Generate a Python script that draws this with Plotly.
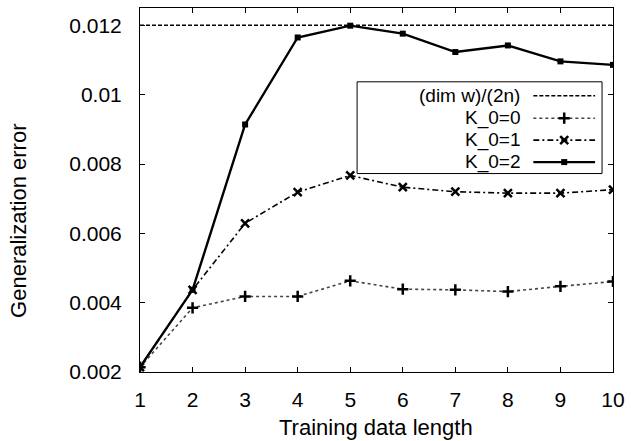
import plotly.graph_objects as go

# ---- data ----
x_len = [1, 2, 3, 4, 5, 6, 7, 8, 9, 10]
dim_w_2n = [0.012] * 10
k0_0 = [0.00214, 0.00385, 0.00418, 0.00418, 0.00463, 0.00439, 0.00437, 0.00432, 0.00447, 0.00461]
k0_1 = [0.00214, 0.00437, 0.00629, 0.00719, 0.00767, 0.00733, 0.00720, 0.00716, 0.00716, 0.00726]
k0_2 = [0.00214, 0.00437, 0.00914, 0.01165, 0.01199, 0.01176, 0.01123, 0.01142, 0.01096, 0.01086]
y_ticks = [0.002, 0.004, 0.006, 0.008, 0.010, 0.012]
y_ticktext = ["0.002", "0.004", "0.006", "0.008", "0.01", "0.012"]
legend_names = ["(dim w)/(2n)", "K_0=0", "K_0=1", "K_0=2"]
x_title = "Training data length"
y_title = "Generalization error"

FONT = "Liberation Sans, Arial, sans-serif"
W, H = 632, 441
L, R, T, B = 140, 615, 7, 372


def px(xp):
    return (xp - L) / (R - L)


def py(yp):
    return (B - yp) / (B - T)


styles = [
    dict(line=dict(color="black", width=1.5, dash="4px,2px"), mode="lines", marker=None),
    dict(line=dict(color="#444", width=1.6, dash="dot"), mode="lines+markers",
         marker=dict(symbol="cross-thin", size=8, line=dict(color="black", width=2.5))),
    dict(line=dict(color="black", width=1.6, dash="6px,3px,2px,3px"), mode="lines+markers",
         marker=dict(symbol="x-thin", size=8, line=dict(color="black", width=2.5))),
    dict(line=dict(color="black", width=2.4), mode="lines+markers",
         marker=dict(symbol="square", size=6, color="black")),
]
series = [dim_w_2n, k0_0, k0_1, k0_2]

fig = go.Figure()
for ys, st, nm in zip(series, styles, legend_names):
    kw = dict(x=x_len, y=ys, mode=st["mode"], line=st["line"], name=nm, showlegend=False)
    if st["marker"] is not None:
        kw["marker"] = st["marker"]
    fig.add_trace(go.Scatter(**kw))

# custom legend (sample on the right of right-aligned text), pixel-based overlay axes
leg_rows = [95, 117.5, 139.5, 161.5]
for nm, st, yy in zip(legend_names, styles, leg_rows):
    fig.add_trace(go.Scatter(x=[535, 597], y=[yy, yy], mode="lines", line=st["line"],
                             xaxis="x2", yaxis="y2", showlegend=False, hoverinfo="skip"))
    if st["marker"] is not None:
        fig.add_trace(go.Scatter(x=[566], y=[yy], mode="markers", marker=st["marker"],
                                 xaxis="x2", yaxis="y2", showlegend=False, hoverinfo="skip"))
    fig.add_annotation(x=px(523), y=py(yy), xref="paper", yref="paper", text=nm, showarrow=False,
                       xanchor="right", yanchor="middle", borderpad=0,
                       font=dict(size=19, family=FONT, color="black"))

fig.add_shape(type="rect", xref="x2", yref="y2", x0=358, x1=604, y0=81, y1=173,
              line=dict(color="black", width=1), fillcolor="white", layer="below")

axis_common = dict(showline=True, linecolor="black", linewidth=1, mirror="ticks",
                   ticks="inside", ticklen=5, tickcolor="black", showgrid=False, zeroline=False,
                   tickfont=dict(size=21, family=FONT, color="black"))

fig.update_layout(
    width=W, height=H,
    margin=dict(l=L, r=W - R, t=T, b=H - B),
    paper_bgcolor="white", plot_bgcolor="white",
    xaxis=dict(range=[1, 10], tickvals=x_len, ticklabelstandoff=9, **axis_common),
    yaxis=dict(range=[0.002, 0.0125], tickvals=y_ticks, ticktext=y_ticktext,
               ticklabelstandoff=13, **axis_common),
    xaxis2=dict(range=[L, R], overlaying="x", visible=False, fixedrange=True),
    yaxis2=dict(range=[B, T], overlaying="y", visible=False, fixedrange=True),
)

fig.add_annotation(x=px(377), y=py(428), xref="paper", yref="paper",
                   text=x_title, showarrow=False, xanchor="center", yanchor="middle",
                   font=dict(size=22, family=FONT, color="black"))
fig.add_annotation(x=px(18), y=py(221), xref="paper", yref="paper", text=y_title, textangle=-90,
                   showarrow=False, xanchor="center", yanchor="middle",
                   font=dict(size=22, family=FONT, color="black"))

fig.write_html("out.html", post_script="document.body.style.margin='0';",
               config={"displayModeBar": False})
